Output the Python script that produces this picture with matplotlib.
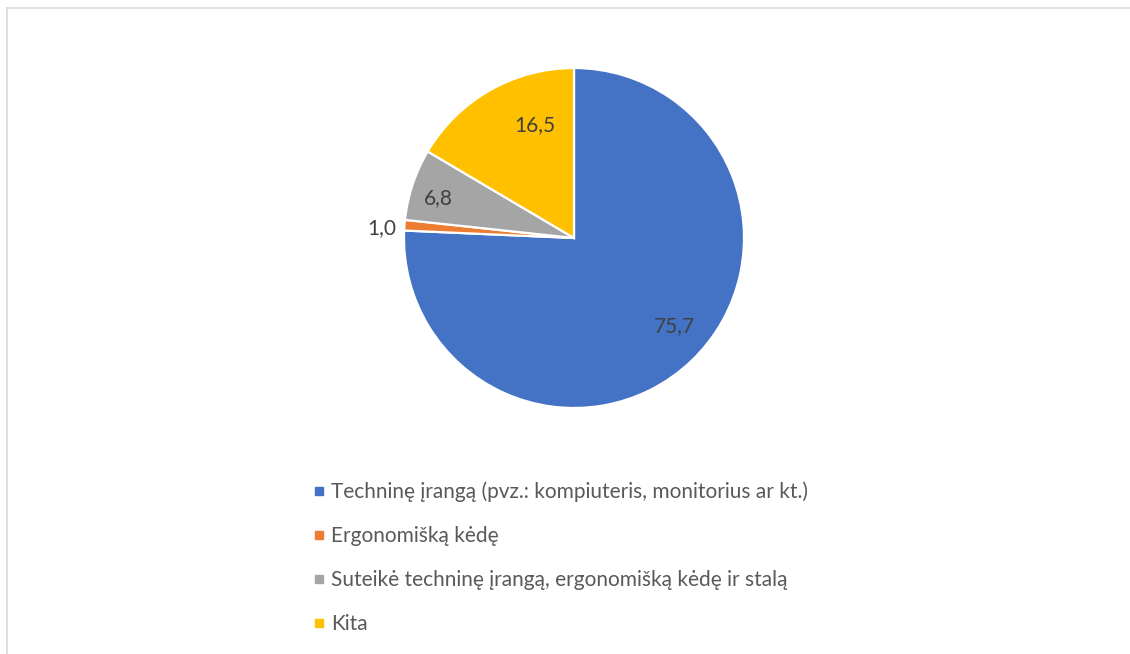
import matplotlib
matplotlib.use("Agg")
import matplotlib.pyplot as plt
from matplotlib.lines import Line2D

categories = [
    "Techninę įrangą (pvz.: kompiuteris, monitorius ar kt.)",
    "Ergonomišką kėdę",
    "Suteikė techninę įrangą, ergonomišką kėdę ir stalą",
    "Kita",
]
values = [75.7, 1.0, 6.8, 16.5]
value_labels = ["75,7", "1,0", "6,8", "16,5"]
colors = ["#4472C4", "#ED7D31", "#A5A5A5", "#FFC000"]
# label positions relative to pie centre (radius units)
label_pos = [(0.59, -0.52), (-1.13, 0.06), (-0.80, 0.235), (-0.23, 0.665)]

W, H = 1130, 654
fig = plt.figure(figsize=(W / 100, H / 100), dpi=100)
plt.rcParams['font.family'] = ['Lato', 'DejaVu Sans']

cx, cy, r = 574, 238, 170
ax = fig.add_axes([(cx - r) / W, (H - cy - r) / H, 2 * r / W, 2 * r / H])
ax.pie(values, colors=colors, startangle=90, counterclock=False,
       wedgeprops=dict(edgecolor="white", linewidth=1.6))
ax.set_xlim(-1, 1)
ax.set_ylim(-1, 1)
for (lx, ly), t in zip(label_pos, value_labels):
    ax.text(lx, ly, t, ha="center", va="center", fontsize=15, color="#404040")

handles = [Line2D([0], [0], marker="s", linestyle="none", markersize=6,
                  markerfacecolor=c, markeredgecolor=c) for c in colors]
leg = fig.legend(handles, categories, loc="upper left",
                 bbox_to_anchor=(302 / W, 1 - 471 / H), frameon=False,
                 fontsize=15, labelcolor="#595959", handlelength=0.6,
                 handletextpad=0.3, labelspacing=1.15, borderpad=0)

# chart border (light gray)
fig.add_artist(Line2D([7 / W, 1], [1 - 8 / H, 1 - 8 / H], color="#D9D9D9", lw=1.2))
fig.add_artist(Line2D([7 / W, 7 / W], [0, 1 - 8 / H], color="#D9D9D9", lw=1.2))

fig.savefig("out.png", dpi=100, facecolor="white")
